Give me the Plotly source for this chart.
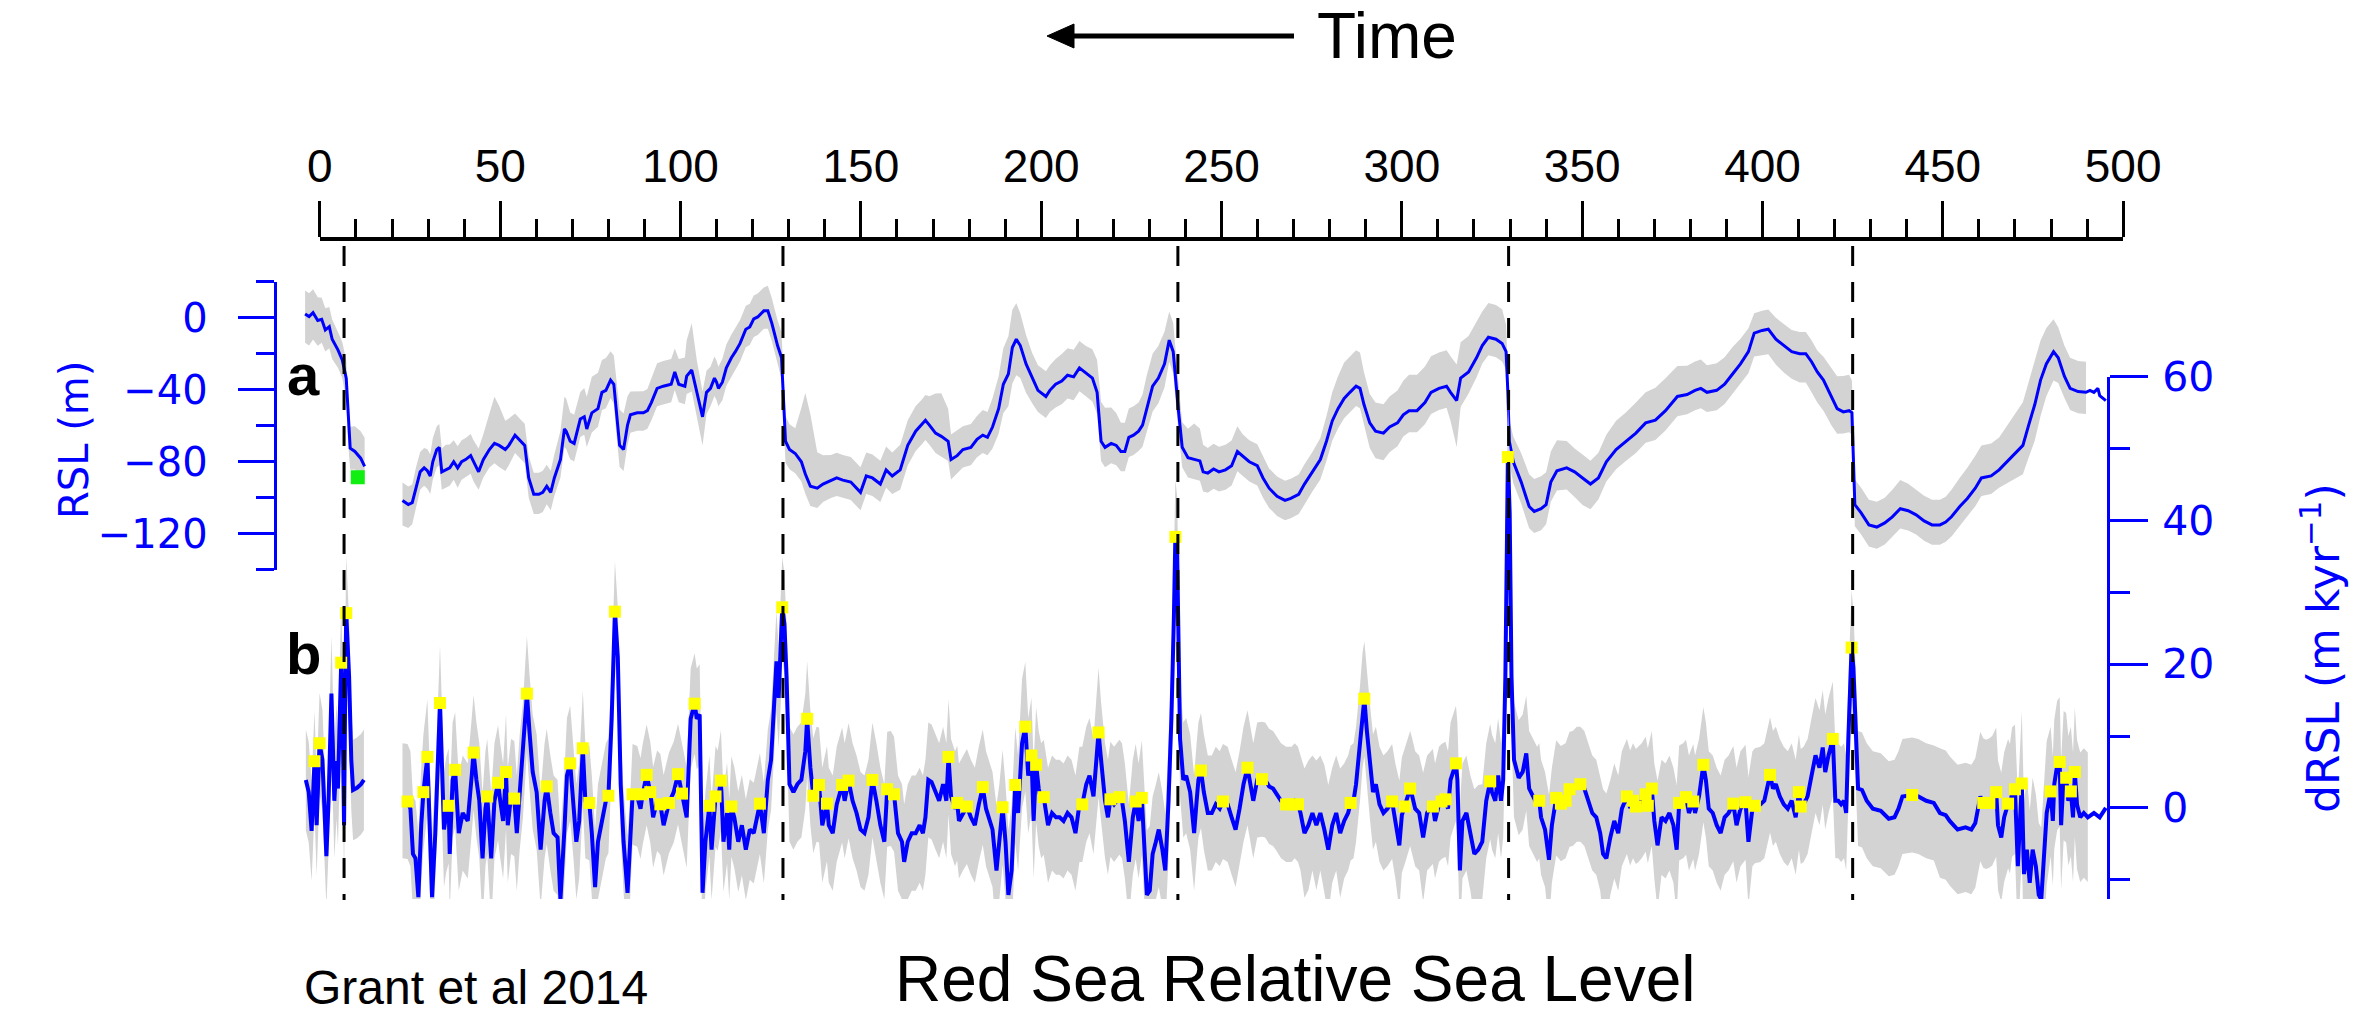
import plotly.graph_objects as go

W, H = 2366, 1014

# ---------------------------------------------------------------------------
# Red Sea relative sea level (RSL, m) and its rate of change (dRSL, m/kyr).
# Ages are in kyr on the plotted time scale.
# ---------------------------------------------------------------------------

# RSL, youngest segment
rsl_age_1 = [-4.1, -3.0, -1.9, -0.6, 0.5, 1.5, 2.6, 3.4, 5.0, 6.2, 7.3, 7.8, 8.4, 9.7, 11.3, 12.4]
rsl_1 = [2.1, 0.6, 2.8, -1.6, -0.9, -6.8, -5.0, -12.0, -17.9, -23.5, -33.7, -55.0, -72.6, -74.4, -78.1, -82.7]
rsl_up_1 = [13, 13, 13, 13, 12, 12, 11, 11, 10, 10, 10, 10, 12, 14, 15, 16]
rsl_dn_1 = [16, 16, 15, 14, 13, 12, 12, 11, 10, 10, 12, 14, 12, 10, 9, 8]

# RSL, main record
rsl_age_2 = [
    22.9, 24.5, 25.6, 26.7, 27.8, 28.9, 29.8, 30.6, 31.3, 32.4,
    33.1, 33.8, 34.9, 36.0, 37.1, 38.2, 39.3, 40.4, 41.8, 42.6,
    44.0, 45.3, 47.0, 48.4, 49.7, 51.4, 52.4, 54.1, 55.7, 56.8,
    57.9, 59.3, 60.7, 61.8, 62.9, 64.0, 65.0, 66.7, 67.8, 68.3,
    69.4, 70.5, 72.2, 73.3, 74.0, 75.4, 77.1, 78.2, 79.3, 80.6,
    81.5, 82.0, 83.1, 84.2, 85.3, 86.1, 88.0, 89.7, 90.8, 91.9,
    93.5, 95.2, 97.4, 98.4, 99.5, 101.2, 101.7, 103.1, 104.5, 106.1,
    107.2, 108.3, 109.4, 110.0, 110.5, 111.6, 112.7, 114.1, 115.2, 116.5,
    118.1, 119.2, 120.3, 121.4, 123.1, 124.2, 125.3, 126.9, 128.0, 128.6,
    129.1, 130.2, 131.8, 133.5, 134.6, 136.0, 137.9, 139.5, 141.7, 143.3,
    145.0, 147.2, 149.9, 151.5, 153.2, 155.4, 157.0, 158.7, 160.9, 163.0,
    165.2, 166.8, 167.9, 169.0, 170.7, 172.3, 174.2, 175.0, 176.7, 178.3,
    180.5, 182.2, 183.8, 185.1, 186.5, 188.2, 189.5, 190.9, 192.0, 193.1,
    194.2, 195.8, 197.5, 199.1, 201.3, 202.4, 204.0, 205.7, 207.3, 209.0,
    210.6, 212.3, 214.2, 215.5, 216.6, 217.7, 219.4, 220.8, 222.1, 223.2,
    224.3, 225.6, 227.0, 228.1, 229.2, 230.9, 232.5, 234.2, 235.5, 236.6,
    238.0, 239.1, 240.7, 242.4, 244.0, 244.9, 246.2, 247.8, 249.3, 251.1,
    252.8, 254.4, 255.8, 257.7, 259.9, 261.5, 263.2, 265.4, 267.6, 269.2,
    271.4, 273.0, 275.2, 277.4, 279.1, 280.7, 282.3, 284.0, 285.6, 287.3,
    288.4, 289.5, 291.1, 292.7, 294.9, 296.6, 298.8, 300.4, 302.0, 304.2,
    306.4, 308.1, 310.3, 312.4, 313.5, 315.2, 316.3, 318.5, 320.7, 322.3,
    324.0, 326.1, 327.8, 328.9, 329.4, 329.8, 330.9, 333.1, 335.3, 336.7,
    338.6, 340.0, 341.3, 343.0, 345.7, 347.9, 350.1, 352.3, 354.5, 356.7,
    359.4, 362.1, 364.9, 367.6, 370.3, 373.1, 376.4, 379.1, 381.3, 382.9,
    384.6, 387.3, 389.5, 391.7, 393.9, 396.1, 397.7, 399.9, 401.6, 403.7,
    405.9, 408.1, 410.3, 412.0, 413.6, 415.2, 416.9, 419.1, 420.7, 422.4,
    424.0, 424.8, 425.2, 425.6, 427.3, 429.5, 431.7, 433.9, 436.0, 438.2,
    440.4, 442.6, 444.8, 447.0, 449.2, 450.8, 452.4, 454.7, 456.8, 459.0,
    460.7, 463.4, 465.6, 467.8, 470.0, 472.2, 473.8, 475.5, 477.1, 478.7,
    480.7, 482.0, 483.7, 485.3, 487.5, 489.7, 490.8, 491.9, 493.0, 493.5,
    495.2,
]
rsl_2 = [
    -101.6, -103.9, -102.8, -93.7, -85.7, -83.5, -85.1, -88.0, -80.1, -73.3,
    -72.1, -85.7, -84.6, -83.5, -80.1, -83.5, -80.1, -78.9, -76.7, -80.1,
    -85.7, -78.9, -73.3, -69.9, -71.0, -73.3, -71.0, -65.3, -68.7, -71.0,
    -89.1, -98.2, -98.2, -97.1, -93.7, -97.1, -89.1, -78.9, -61.9, -63.1,
    -68.7, -69.9, -56.3, -55.1, -61.9, -52.9, -50.6, -41.5, -40.4, -34.7,
    -37.0, -48.3, -71.0, -73.3, -59.7, -54.0, -52.9, -52.9, -51.7, -47.2,
    -39.3, -38.1, -37.0, -30.2, -37.0, -38.1, -32.5, -29.1, -41.5, -55.1,
    -41.5, -39.3, -33.6, -35.9, -39.3, -35.9, -27.9, -22.3, -18.9, -14.3,
    -6.4, -5.2, -0.7, 0.4, 3.8, 3.8, -3.0, -15.5, -22.3, -46.0,
    -68.7, -73.3, -75.5, -80.1, -86.9, -93.7, -94.8, -92.5, -90.3, -89.1,
    -90.3, -91.4, -97.1, -88.0, -89.1, -92.5, -84.6, -88.0, -84.6, -71.0,
    -63.1, -59.7, -57.0, -59.7, -64.2, -66.0, -68.7, -78.9, -76.7, -73.3,
    -72.1, -67.6, -65.3, -66.5, -60.8, -50.6, -37.0, -31.3, -16.6, -12.0,
    -15.5, -25.7, -33.6, -40.4, -43.8, -40.4, -37.0, -35.2, -32.0, -32.9,
    -27.9, -30.6, -33.6, -41.5, -68.7, -72.1, -69.9, -71.0, -74.4, -74.4,
    -66.5, -65.3, -63.1, -59.7, -50.6, -38.1, -33.6, -25.7, -12.5, -18.9,
    -50.6, -72.1, -77.8, -78.9, -79.6, -85.7, -86.4, -84.1, -85.7, -84.6,
    -82.3, -74.4, -76.7, -80.1, -82.3, -89.1, -94.8, -99.3, -101.6, -100.5,
    -98.2, -92.5, -85.7, -78.9, -68.7, -57.4, -50.6, -44.9, -41.5, -38.1,
    -39.3, -48.3, -58.5, -63.1, -64.2, -60.8, -58.5, -54.0, -51.7, -51.7,
    -47.2, -41.5, -39.3, -38.1, -41.5, -46.1, -33.6, -30.2, -22.3, -15.5,
    -10.9, -12.0, -14.3, -18.9, -41.5, -68.7, -80.1, -91.4, -105.0, -107.7,
    -106.2, -103.9, -91.4, -85.1, -83.5, -85.7, -89.1, -92.5, -89.1, -80.1,
    -73.3, -68.7, -64.2, -58.5, -57.0, -51.7, -43.8, -42.7, -40.4, -39.3,
    -41.5, -40.4, -37.0, -31.3, -25.7, -18.9, -8.6, -7.1, -6.4, -12.0,
    -15.5, -18.9, -20.0, -20.0, -24.5, -30.2, -34.7, -43.8, -50.6, -52.4,
    -51.7, -52.9, -75.5, -103.9, -108.4, -115.2, -116.4, -114.1, -110.7, -106.2,
    -107.3, -109.6, -113.0, -115.2, -115.2, -113.6, -110.7, -105.0, -100.5, -94.8,
    -89.1, -88.0, -84.6, -80.1, -75.5, -71.0, -59.7, -48.3, -34.7, -25.7,
    -18.9, -22.3, -32.5, -39.3, -41.1, -41.5, -40.4, -41.5, -39.3, -43.3,
    -46.1,
]
# upper / lower extent of the RSL confidence band (m above / below the curve)
rsl_up_2 = [
    10, 10, 10, 11, 11, 11, 12, 12, 13, 13,
    13, 13, 14, 13, 12, 12, 12, 12, 12, 12,
    13, 14, 20, 26, 22, 16, 15, 12, 12, 12,
    12, 12, 12, 12, 12, 12, 13, 16, 18, 18,
    16, 16, 15, 16, 18, 20, 20, 18, 18, 16,
    16, 18, 20, 20, 16, 13, 12, 12, 12, 13,
    14, 14, 14, 13, 14, 16, 20, 26, 18, 14,
    12, 12, 12, 12, 12, 13, 13, 13, 13, 13,
    13, 13, 13, 13, 13, 14, 14, 14, 14, 14,
    14, 14, 14, 30, 45, 40, 20, 16, 14, 14,
    14, 14, 14, 13, 13, 13, 13, 13, 14, 14,
    14, 14, 14, 16, 22, 24, 18, 14, 14, 13,
    13, 13, 14, 14, 16, 18, 20, 21, 21, 20,
    18, 16, 14, 14, 14, 14, 14, 15, 15, 15,
    15, 15, 16, 18, 22, 22, 20, 18, 16, 16,
    16, 16, 16, 17, 18, 18, 18, 18, 16, 16,
    16, 14, 16, 20, 18, 15, 14, 14, 14, 14,
    14, 14, 12, 12, 12, 12, 11, 11, 11, 11,
    11, 11, 11, 12, 14, 16, 18, 20, 20, 20,
    20, 18, 16, 16, 16, 17, 18, 19, 20, 20,
    20, 20, 20, 20, 20, 20, 20, 20, 20, 19,
    19, 19, 19, 15, 12, 12, 14, 16, 18, 18,
    18, 18, 17, 17, 15, 13, 13, 13, 14, 15,
    16, 16, 17, 17, 18, 18, 17, 16, 16, 16,
    15, 15, 15, 15, 14, 13, 11, 11, 11, 12,
    12, 12, 12, 12, 12, 12, 13, 16, 18, 20,
    20, 18, 14, 14, 14, 14, 14, 14, 15, 16,
    15, 14, 14, 14, 14, 14, 15, 16, 17, 18,
    18, 18, 18, 20, 22, 24, 24, 24, 22, 20,
    18, 17, 17, 17, 17, 17, None, None, None, None,
    None,
]
rsl_dn_2 = [
    14, 13, 12, 11, 10, 10, 10, 10, 10, 10,
    10, 10, 10, 10, 10, 11, 10, 10, 10, 11,
    10, 10, 10, 11, 12, 12, 11, 10, 10, 10,
    11, 11, 11, 11, 10, 10, 10, 10, 10, 10,
    10, 10, 10, 10, 10, 11, 10, 10, 10, 10,
    11, 12, 12, 12, 11, 10, 10, 10, 10, 10,
    10, 10, 10, 10, 10, 10, 10, 12, 14, 16,
    12, 10, 10, 10, 10, 10, 10, 10, 10, 10,
    10, 10, 10, 10, 10, 10, 10, 10, 12, 12,
    12, 11, 11, 11, 11, 11, 11, 10, 10, 10,
    10, 10, 10, 10, 10, 10, 10, 10, 11, 11,
    11, 11, 11, 11, 11, 11, 11, 11, 10, 10,
    10, 10, 10, 10, 12, 14, 16, 18, 20, 20,
    18, 16, 14, 12, 12, 12, 13, 13, 13, 13,
    13, 13, 13, 12, 11, 11, 11, 11, 11, 11,
    11, 11, 11, 12, 13, 14, 14, 13, 12, 12,
    12, 11, 11, 11, 11, 11, 11, 11, 11, 11,
    11, 11, 11, 11, 11, 11, 11, 11, 11, 11,
    11, 11, 11, 11, 11, 11, 11, 11, 11, 11,
    11, 12, 14, 15, 15, 14, 13, 12, 12, 12,
    12, 12, 12, 12, 16, 26, 16, 12, 11, 10,
    10, 10, 10, 10, 12, 12, 12, 12, 12, 12,
    12, 11, 11, 11, 12, 14, 15, 14, 12, 11,
    11, 11, 11, 11, 11, 11, 11, 11, 11, 11,
    11, 11, 11, 11, 11, 12, 13, 14, 14, 14,
    15, 15, 16, 16, 17, 17, 17, 16, 14, 12,
    12, 12, 12, 12, 12, 12, 12, 12, 11, 11,
    11, 11, 11, 11, 11, 11, 11, 11, 10, 10,
    10, 10, 10, 12, 14, 16, 18, 20, 20, 18,
    16, 14, 12, 12, 12, 12, None, None, None, None,
    None,
]

# dRSL (m/kyr), youngest segment
drsl_age_1 = [-3.9, -3.1, -2.3, -1.5, -0.9, -0.1, 0.7, 1.8, 2.4, 3.2, 4.0, 4.6,
              5.0, 5.9, 6.3, 6.7, 7.0, 7.3, 8.1, 8.7, 9.2, 10.3, 11.4, 12.2]
drsl_1 = [3.9, 2.2, -3.2, 6.5, -2.4, 9.0, 6.7, -6.7, 1.0, 15.9, 1.0, 6.5,
          2.7, 20.2, 12.4, -2.4, 15.3, 27.1, 18.2, 6.7, 2.5, 2.8, 3.3, 3.9]
drsl_err_1 = [7, 7, 7, 7, 7, 7, 7, 7, 7, 8, 8, 8,
              8, 8, 8, 8, 8, 8, 8, 7, 7, 7, 7, 7]

# dRSL, main record
drsl_age_2 = [
    22.9, 24.3, 25.1, 25.8, 26.5, 27.3, 28.1, 28.7, 29.8, 30.2,
    31.1, 32.0, 32.7, 33.3, 33.8, 34.4, 35.0, 35.7, 36.0, 36.8,
    37.5, 38.5, 39.6, 41.0, 42.1, 42.6, 43.4, 44.2, 45.1, 45.9,
    46.4, 47.5, 48.4, 49.4, 50.0, 50.8, 51.6, 52.1, 53.0, 53.9,
    54.6, 55.4, 56.3, 57.4, 58.1, 59.0, 60.1, 61.2, 62.3, 62.9,
    63.9, 64.8, 65.9, 66.7, 67.8, 68.5, 69.4, 70.3, 71.1, 71.9,
    72.9, 73.6, 74.7, 75.4, 76.3, 77.1, 78.2, 79.3, 80.0, 80.9,
    81.8, 82.6, 83.4, 84.2, 85.3, 86.1, 86.7, 88.0, 88.9, 89.5,
    90.6, 91.6, 92.4, 93.5, 94.4, 95.3, 96.8, 98.1, 99.3, 100.4,
    101.7, 102.8, 103.9, 104.5, 105.3, 106.1, 106.9, 108.0, 108.6, 109.7,
    110.3, 111.2, 111.9, 112.9, 113.5, 114.1, 114.9, 116.0, 117.0, 118.1,
    119.2, 120.3, 122.0, 123.1, 124.2, 125.1, 125.8, 126.6, 127.2, 127.8,
    128.2, 128.8, 129.4, 130.2, 131.3, 132.4, 133.5, 134.6, 135.1, 136.0,
    136.8, 137.7, 138.4, 139.3, 140.6, 141.1, 142.2, 143.3, 144.8, 145.5,
    146.6, 147.7, 148.8, 149.9, 151.0, 152.1, 153.2, 154.3, 155.4, 156.5,
    157.3, 158.3, 159.2, 160.3, 161.4, 162.0, 163.0, 164.1, 165.2, 166.3,
    167.2, 167.9, 168.7, 169.6, 170.7, 171.7, 172.8, 173.7, 174.3, 175.0,
    176.1, 176.7, 177.2, 178.3, 179.4, 180.5, 181.6, 182.7, 183.8, 184.7,
    185.4, 186.5, 187.6, 188.4, 189.3, 190.1, 190.9, 191.8, 192.8, 193.6,
    194.7, 195.6, 196.4, 197.3, 197.9, 198.6, 199.3, 200.0, 200.7, 201.9,
    203.0, 204.1, 205.1, 206.2, 207.3, 208.4, 209.5, 210.6, 211.4, 212.5,
    213.4, 214.5, 215.9, 216.6, 217.7, 218.5, 219.2, 220.2, 221.7, 222.4,
    223.2, 224.3, 225.4, 226.2, 227.0, 227.9, 228.7, 229.3, 230.1, 230.9,
    231.8, 232.6, 233.6, 234.4, 235.3, 236.1, 236.8, 237.2, 237.7, 238.1,
    238.5, 239.4, 240.2, 241.3, 242.4, 243.1, 243.6, 244.3, 245.1, 246.2,
    247.3, 248.4, 249.5, 250.4, 251.7, 252.8, 253.9, 255.0, 256.1, 257.2,
    257.9, 258.8, 259.9, 261.2, 262.1, 263.2, 264.3, 265.4, 266.5, 267.9,
    269.4, 270.3, 271.2, 271.9, 273.0, 274.1, 275.2, 276.3, 277.4, 278.5,
    279.6, 280.7, 281.8, 282.9, 284.0, 285.1, 285.8, 286.6, 287.3, 288.4,
    289.1, 289.6, 290.3, 291.1, 292.0, 292.8, 293.8, 294.9, 296.0, 297.3,
    298.2, 299.3, 300.0, 300.8, 302.3, 302.9, 303.7, 304.8, 305.9, 307.0,
    308.0, 308.6, 309.2, 310.3, 311.0, 312.1, 312.8, 313.5, 315.0, 315.4,
    316.1, 316.8, 317.9, 319.0, 320.1, 321.2, 322.3, 323.4, 324.5, 325.0,
    325.9, 326.7, 327.5, 328.1, 328.7, 329.1, 329.4, 329.9, 330.4, 331.1,
    332.4, 333.5, 334.5, 335.3, 336.4, 337.5, 338.1, 338.6, 339.7, 340.8,
    341.6, 342.8, 344.1, 345.4, 346.5, 347.4, 348.5, 349.5, 350.6, 351.7,
    352.8, 353.9, 355.0, 355.8, 356.7, 357.8, 358.9, 360.0, 361.0, 362.4,
    363.3, 364.1, 364.9, 365.6, 366.5, 367.6, 368.2, 369.3, 370.0, 370.9,
    372.0, 373.1, 374.2, 375.3, 376.2, 376.9, 378.0, 378.8, 379.6, 380.8,
    381.3, 382.4, 383.6, 384.3, 385.1, 386.2, 387.3, 388.4, 389.5, 390.6,
    391.9, 392.8, 393.9, 395.3, 396.1, 397.2, 397.9, 399.4, 400.5, 402.1,
    402.9, 403.7, 404.8, 405.9, 407.0, 408.1, 409.2, 410.1, 410.6, 411.4,
    412.5, 413.6, 414.7, 415.8, 416.7, 417.4, 418.3, 419.5, 420.2, 421.0,
    421.8, 422.6, 423.2, 423.8, 424.7, 425.2, 425.9, 426.5, 427.6, 428.9,
    430.6, 432.8, 435.0, 436.6, 437.7, 438.8, 441.5, 443.2, 445.4, 447.5,
    449.2, 450.8, 451.9, 454.1, 456.3, 457.9, 459.0, 459.8, 460.4, 461.2,
    462.0, 462.9, 463.7, 464.8, 465.3, 466.2, 467.0, 468.1, 468.6, 469.2,
    470.0, 470.8, 471.4, 471.9, 472.5, 473.3, 474.1, 474.9, 475.8, 476.6,
    477.3, 478.0, 478.8, 479.9, 480.5, 480.9, 481.7, 482.4, 482.8, 483.5,
    484.2, 484.8, 485.5, 486.1, 486.6, 487.2, 488.1, 489.1, 490.2, 491.9,
    493.5, 495.2,
]
drsl_2 = [
    1.0, 0.9, -0.1, -6.4, -7.0, -12.4, -2.4, 2.2, 7.1, 1.0,
    -12.4, -3.5, 6.7, 14.6, 6.7, -3.0, -1.0, 0.3, -6.4, 3.9,
    5.3, -3.5, -0.7, -1.8, 4.5, 7.7, 3.9, 1.0, -7.0, -0.1,
    1.6, -7.0, 1.0, 3.5, 1.0, -1.8, 5.0, -2.4, 1.6, 1.3,
    -3.5, 2.2, 6.7, 15.9, 10.7, 5.0, 2.2, -5.8, 1.0, 3.0,
    -0.7, -3.5, -4.1, -12.7, -3.0, 4.5, 6.2, 1.0, -4.7, -1.8,
    8.3, 1.0, 0.7, -3.5, -11.0, -4.7, -1.8, 1.0, 1.7, 12.4,
    27.3, 21.0, 3.3, -4.7, -11.8, -4.7, 1.9, 1.6, -0.1, 1.9,
    4.6, 2.2, -1.3, 1.0, 0.5, -2.4, 0.7, 2.2, 4.7, 2.0,
    -1.3, 12.4, 14.5, 12.4, 13.0, -11.8, -4.7, 0.3, -5.8, 1.6,
    1.0, 3.8, -4.7, -0.7, -5.8, 0.2, -1.3, -4.7, -2.4, -5.8,
    -3.0, -3.5, 0.6, -3.5, 3.9, 6.7, 12.4, 20.4, 15.3, 21.6,
    27.9, 25.6, 18.2, 3.3, 2.2, 3.3, 3.9, 7.9, 12.4, 5.6,
    1.7, 3.3, 3.2, -2.4, 0.6, -2.4, -3.5, 0.5, 3.2, 1.0,
    3.8, 1.0, -0.7, -3.0, -3.5, -1.3, 3.9, 1.0, -2.4, -4.7,
    2.6, 2.7, 1.9, -3.5, -4.7, -7.5, -4.7, -3.5, -3.5, -2.4,
    -3.5, -1.3, 3.9, 3.6, 2.2, 1.0, 3.3, 1.0, 7.1, 1.6,
    -0.1, 0.7, -1.8, -0.7, 0.2, -1.3, -2.4, 0.5, 2.9, -0.1,
    -1.3, -3.0, -8.7, -4.7, 0.1, -4.7, -12.1, -8.7, 3.2, -0.7,
    9.0, 11.3, 4.5, 7.3, -1.8, 6.0, 2.7, 1.0, 1.5, -2.4,
    -0.7, -1.3, -1.3, -1.8, -0.7, -1.3, -3.5, 0.5, 0.5, 3.3,
    4.5, 1.6, 10.5, 6.7, 1.0, -1.3, 1.2, 0.5, 1.5, 1.0,
    -1.8, -7.5, -1.3, 0.9, -1.8, 1.4, -5.8, -12.1, -11.5, -6.4,
    -4.7, -3.0, -5.8, -8.7, 1.0, 12.4, 26.7, 37.7, 35.3, 23.9,
    9.6, 3.9, 4.5, 2.2, -3.5, 1.0, 3.9, 5.2, 2.2, -0.7,
    -0.7, 0.5, -0.1, 0.9, 0.5, -1.3, -3.0, -0.1, 3.3, 5.6,
    3.3, 1.0, 3.9, 4.0, 3.9, 3.0, 2.7, 1.9, 1.0, 0.5,
    0.5, 1.0, 0.5, -0.7, -3.5, -2.4, -0.7, -2.4, -0.7, -3.0,
    -5.8, -2.4, -0.7, -3.5, -1.8, -0.7, 0.7, 1.0, 3.3, 9.0,
    13.6, 15.2, 10.7, 6.7, 2.2, 3.3, 0.5, -0.7, -0.1, 0.9,
    -1.8, -5.2, -1.0, 0.2, 2.7, 1.6, -0.1, -0.7, -4.1, -0.7,
    -0.1, 0.2, -1.8, 0.5, 0.9, 1.2, -0.1, 3.9, 6.2, 3.9,
    -8.7, -1.8, -0.7, -3.5, -6.4, -5.8, -4.7, 1.0, 3.7, 2.2,
    1.0, 4.5, 1.0, 3.9, 18.2, 35.3, 48.8, 41.0, 18.2, 6.7,
    4.2, 5.0, 7.6, 2.7, 1.6, 0.5, 1.0, -1.3, -3.0, -7.2,
    -2.4, 1.4, 0.6, 1.0, 2.6, 2.7, 3.3, 3.3, 2.7, 1.0,
    -0.7, -1.3, -3.5, -6.4, -7.0, -4.1, -1.8, -3.5, -0.1, 1.6,
    0.0, 1.0, 0.2, 0.5, 1.0, 1.9, 0.3, 2.7, -1.8, -5.2,
    -1.3, -1.8, -0.7, -2.4, -5.8, 0.7, 1.0, 1.5, -0.7, 0.9,
    -0.7, 1.6, 6.0, 3.9, -0.1, -0.7, -2.4, -3.5, -1.3, -0.7,
    0.6, -2.4, -0.1, 0.8, -4.7, -0.1, 0.3, 0.5, 1.0, 4.6,
    2.7, 3.3, 1.6, 0.5, -0.1, 1.0, -1.3, 2.2, 0.2, 0.5,
    1.6, 4.5, 7.3, 5.6, 8.4, 5.0, 7.3, 9.6, 1.0, 1.0,
    0.5, 1.0, -0.7, 9.6, 22.3, 19.5, 9.6, 2.7, 2.5, 1.0,
    -0.1, -0.4, -1.5, -1.3, -0.1, 1.6, 1.8, 1.6, 1.0, 0.7,
    -0.7, -1.0, -1.8, -3.0, -2.7, -3.0, -2.1, -0.1, 1.6, 0.7,
    0.5, 0.7, 1.0, 2.2, -2.4, -4.1, -1.3, 0.6, -0.1, 2.2,
    2.6, -8.1, -2.4, 3.4, -9.2, -5.8, -10.4, -5.8, -8.1, -12.1,
    -12.7, -6.4, -0.7, 2.3, -1.8, 3.3, 5.9, 6.4, -2.4, 4.5,
    4.2, 1.0, 2.3, -1.3, 5.0, 0.5, -1.3, -0.7, -1.3, -0.7,
    -1.3, 0.0,
]
# half-width of the dRSL confidence band (m/kyr)
drsl_err_2 = [
    8, 8, 8, 8, 8, 9, 8, 8, 8, 8,
    9, 8, 8, 8, 8, 8, 8, 8, 8, 8,
    8, 8, 8, 8, 8, 8, 8, 8, 9, 8,
    8, 9, 8, 8, 8, 8, 8, 8, 8, 8,
    8, 8, 8, 8, 8, 8, 8, 8, 8, 8,
    8, 8, 8, 9, 8, 8, 8, 8, 8, 8,
    8, 8, 8, 8, 8, 8, 8, 8, 8, 7,
    7, 7, 7, 7, 8, 7, 7, 7, 7, 7,
    7, 7, 7, 7, 7, 7, 7, 7, 7, 7,
    7, 7, 7, 7, 7, 8, 7, 7, 7, 7,
    7, 7, 7, 7, 7, 7, 7, 7, 7, 7,
    7, 7, 7, 7, 7, 7, 7, 7, 7, 7,
    7, 7, 7, 8, 8, 8, 8, 8, 8, 8,
    8, 8, 8, 8, 8, 8, 8, 8, 8, 8,
    8, 8, 8, 8, 8, 8, 8, 8, 8, 8,
    8, 8, 8, 8, 8, 8, 8, 8, 8, 8,
    8, 8, 8, 8, 8, 8, 8, 8, 8, 8,
    8, 8, 8, 8, 8, 8, 8, 8, 8, 8,
    8, 8, 9, 8, 8, 8, 9, 9, 8, 8,
    9, 9, 8, 8, 8, 8, 8, 8, 8, 8,
    8, 8, 8, 8, 8, 8, 8, 8, 8, 8,
    8, 8, 9, 8, 8, 8, 8, 8, 8, 8,
    8, 8, 8, 8, 8, 8, 8, 9, 9, 8,
    8, 8, 8, 8, 8, 8, 8, 8, 8, 8,
    8, 8, 8, 8, 8, 8, 8, 8, 8, 8,
    8, 8, 8, 8, 8, 8, 8, 8, 8, 8,
    8, 8, 8, 8, 8, 8, 8, 8, 8, 8,
    8, 8, 8, 8, 9, 9, 8, 9, 8, 9,
    9, 8, 8, 9, 8, 8, 8, 8, 8, 8,
    8, 8, 8, 8, 8, 8, 8, 8, 8, 8,
    8, 9, 8, 8, 8, 8, 8, 8, 9, 8,
    8, 8, 8, 8, 8, 8, 8, 8, 8, 8,
    9, 8, 8, 8, 9, 9, 8, 8, 8, 8,
    8, 8, 8, 8, 8, 8, 8, 8, 8, 8,
    8, 8, 8, 8, 8, 8, 8, 8, 8, 9,
    8, 8, 8, 8, 8, 8, 8, 8, 8, 8,
    8, 8, 8, 9, 9, 8, 8, 8, 8, 8,
    8, 8, 8, 8, 8, 8, 8, 8, 8, 9,
    8, 8, 8, 8, 9, 8, 8, 8, 8, 8,
    8, 8, 8, 8, 8, 8, 8, 8, 8, 8,
    8, 8, 8, 8, 9, 8, 8, 8, 8, 8,
    8, 8, 8, 8, 8, 8, 8, 8, 8, 8,
    8, 8, 8, 8, 8, 8, 8, 8, 8, 8,
    8, 8, 8, 8, 8, 8, 8, 8, 8, 8,
    8, 8, 8, 8, 8, 8, 8, 8, 8, 8,
    9, 9, 9, 9, 9, 9, 9, 9, 9, 9,
    9, 9, 9, 9, 9, 9, 9, 9, 9, 9,
    9, 10, 10, 10, 10, 10, 10, 10, 10, 10,
    10, 10, 10, 9, 9, 9, 9, 9, 9, 9,
    9, 9, 9, 9, 9, 9, 9, 9, 9, None,
    None, None,
]

# local maxima of dRSL picked out in yellow
peak_age = [
    -1.5, -0.1, 5.9, 7.3,
    24.3, 28.7, 29.8, 33.3, 35.7, 37.5, 42.6, 46.4, 49.4, 51.6, 53.9, 57.4,
    62.9, 69.4, 72.9, 74.7, 80.0, 81.8, 86.7, 89.5, 90.6, 91.6, 94.4, 96.8,
    99.3, 100.4, 103.9, 108.0, 109.7, 111.2, 114.1, 122.0, 128.2, 135.1, 136.8,
    138.4, 140.6, 144.8, 146.6, 153.2, 157.3, 159.2,
    174.3, 176.7, 179.4, 183.8, 189.3, 192.8, 195.6, 197.3, 198.6, 200.7,
    211.4, 215.9, 219.2, 221.7, 226.2, 227.9, 237.2, 244.3, 250.4, 257.2,
    261.2, 267.9, 269.4, 271.2, 285.8, 289.6, 297.3, 300.8, 302.3, 308.6,
    311.0, 312.1, 315.0, 324.5, 329.4,
    338.1, 342.8, 344.1, 345.4, 346.5, 349.5, 362.4, 364.1, 364.9, 367.6,
    368.2, 369.3, 376.9, 378.8, 380.8, 383.6, 391.9, 395.3, 397.9, 402.1,
    410.1, 410.6, 419.5, 424.7, 441.5, 461.2, 462.9, 464.8, 468.1, 470.0,
    471.9, 479.9, 482.4, 484.2, 485.5, 486.6,
]
peak_rate = [
    6.5, 9.0, 20.2, 27.1,
    0.9, 2.2, 7.1, 14.6, 0.3, 5.3, 7.7, 1.6, 3.5, 5.0, 1.3, 15.9,
    3.0, 6.2, 8.3, 0.7, 1.7, 27.3, 1.9, 1.9, 4.6, 2.2, 0.5, 0.7,
    4.7, 2.0, 14.5, 0.3, 1.6, 3.8, 0.2, 0.6, 27.9, 12.4, 1.7,
    3.2, 0.6, 3.2, 3.8, 3.9, 2.6, 1.9,
    7.1, 0.7, 0.2, 2.9, 0.1, 3.2, 11.3, 7.3, 6.0, 1.5,
    0.5, 10.5, 1.2, 1.5, 0.9, 1.4, 37.7, 5.2, 0.9, 5.6,
    4.0, 0.5, 0.5, 0.5, 0.7, 15.2, 0.9, 0.2, 2.7, 0.2,
    0.9, 1.2, 6.2, 3.7, 48.8,
    1.0, 1.4, 0.6, 1.0, 2.6, 3.3, 1.6, 1.0, 0.2, 1.9,
    0.3, 2.7, 0.7, 1.5, 0.9, 6.0, 0.6, 0.8, 0.3, 4.6,
    2.2, 0.2, 9.6, 22.3, 1.8, 0.7, 0.7, 2.2, 0.6, 2.6,
    3.4, 2.3, 6.4, 4.2, 2.3, 5.0,
]

# core-top sea level
coretop_age = [10.5]
coretop_rsl = [-88.7]

# glacial terminations (dashed markers)
termination_age = [6.7, 128.4, 237.9, 329.6, 425.0]

for a, b in [(rsl_age_1, rsl_1), (rsl_age_1, rsl_up_1), (rsl_age_1, rsl_dn_1),
             (rsl_age_2, rsl_2), (rsl_age_2, rsl_up_2), (rsl_age_2, rsl_dn_2),
             (drsl_age_1, drsl_1), (drsl_age_1, drsl_err_1),
             (drsl_age_2, drsl_2), (drsl_age_2, drsl_err_2), (peak_age, peak_rate)]:
    assert len(a) == len(b), (len(a), len(b))

# ---------------------------------------------------------------------------
# page geometry (pixels) -> paper fractions
# ---------------------------------------------------------------------------
def fx(px):
    return px / W


def fy(py):
    return 1 - py / H


X0 = 319.9          # pixel column of age 0
KPX = 3.6065        # pixels per kyr
DATA_L, DATA_R = 280, 2132

BLUE = "#0000FF"
GREY = "#D3D3D3"
SANS = "Liberation Sans, Arial, Helvetica, sans-serif"
WIDE = "DejaVu Sans, Verdana, sans-serif"


def band(ages, vals, up, dn):
    xs, hi, lo = [], [], []
    for a, v, u, d in zip(ages, vals, up, dn):
        if u is None or d is None:
            continue
        xs.append(a)
        hi.append(v + u)
        lo.append(v - d)
    return xs + xs[::-1], hi + lo[::-1]


fig = go.Figure()

# confidence envelopes
for ages, vals, up, dn in [(rsl_age_1, rsl_1, rsl_up_1, rsl_dn_1),
                           (rsl_age_2, rsl_2, rsl_up_2, rsl_dn_2)]:
    bx, by = band(ages, vals, up, dn)
    fig.add_trace(go.Scatter(x=bx, y=by, fill="toself", fillcolor=GREY,
                             line=dict(width=0), mode="lines",
                             xaxis="x", yaxis="y", hoverinfo="skip", showlegend=False))
for ages, vals, err in [(drsl_age_1, drsl_1, drsl_err_1),
                        (drsl_age_2, drsl_2, drsl_err_2)]:
    bx, by = band(ages, vals, err, err)
    fig.add_trace(go.Scatter(x=bx, y=by, fill="toself", fillcolor=GREY,
                             line=dict(width=0), mode="lines",
                             xaxis="x", yaxis="y2", hoverinfo="skip", showlegend=False))

# RSL curve
for ages, vals in [(rsl_age_1, rsl_1), (rsl_age_2, rsl_2)]:
    fig.add_trace(go.Scatter(x=ages, y=vals, mode="lines",
                             line=dict(color=BLUE, width=3),
                             xaxis="x", yaxis="y", showlegend=False))
fig.add_trace(go.Scatter(x=coretop_age, y=coretop_rsl, mode="markers",
                         marker=dict(symbol="square", size=14, color="#11EE11",
                                     line=dict(width=0)),
                         xaxis="x", yaxis="y", showlegend=False))

# dRSL curve
for ages, vals in [(drsl_age_1, drsl_1), (drsl_age_2, drsl_2)]:
    fig.add_trace(go.Scatter(x=ages, y=vals, mode="lines",
                             line=dict(color=BLUE, width=4),
                             xaxis="x", yaxis="y2", showlegend=False))
fig.add_trace(go.Scatter(x=peak_age, y=peak_rate, mode="markers",
                         marker=dict(symbol="square", size=12, color="#FFFF00",
                                     line=dict(width=0)),
                         xaxis="x", yaxis="y2", showlegend=False, cliponaxis=False))

# carrier for the time axis
fig.add_trace(go.Scatter(x=[0, 500], y=[None, None], mode="lines",
                         xaxis="x2", yaxis="y", showlegend=False, hoverinfo="skip"))

# terminations
for t in termination_age:
    fig.add_shape(type="line", xref="x", yref="paper", x0=t, x1=t,
                  y0=fy(246), y1=fy(900), layer="above",
                  line=dict(color="black", width=3, dash="20px,16px"))

# "Time" arrow
fig.add_shape(type="line", xref="paper", yref="paper",
              x0=fx(1068), x1=fx(1294), y0=fy(36), y1=fy(36),
              line=dict(color="black", width=5))
fig.add_shape(type="path", xref="paper", yref="paper",
              path=f"M {fx(1047)} {fy(36)} L {fx(1074)} {fy(24)} L {fx(1074)} {fy(48)} Z",
              fillcolor="black", line=dict(color="black", width=1))

ann = [
    dict(text="Time", x=fx(1387), y=fy(36), font=dict(family=SANS, size=64, color="black")),
    dict(text="Red Sea Relative Sea Level", x=fx(1295), y=fy(979),
         font=dict(family=SANS, size=64, color="black")),
    dict(text="Grant et al 2014", x=fx(476), y=fy(987),
         font=dict(family=SANS, size=48, color="black")),
    dict(text="<b>a</b>", x=fx(303), y=fy(374), font=dict(family=SANS, size=58, color="black")),
    dict(text="<b>b</b>", x=fx(303), y=fy(653), font=dict(family=SANS, size=58, color="black")),
    dict(text="RSL (m)", x=fx(74), y=fy(440), textangle=-90,
         font=dict(family=WIDE, size=40, color=BLUE)),
    dict(text="dRSL (m kyr<sup>\u22121</sup>)", x=fx(2320), y=fy(648), textangle=-90,
         font=dict(family=WIDE, size=44, color=BLUE)),
]
for a in ann:
    a.update(xref="paper", yref="paper", xanchor="center", yanchor="middle",
             showarrow=False)

fig.update_layout(
    width=W, height=H, autosize=False,
    margin=dict(l=0, r=0, t=0, b=0, pad=0, autoexpand=False),
    paper_bgcolor="white", plot_bgcolor="rgba(0,0,0,0)",
    showlegend=False,
    annotations=ann,
    xaxis=dict(domain=[fx(DATA_L), fx(DATA_R)],
               range=[(DATA_L - X0) / KPX, (DATA_R - X0) / KPX],
               visible=False, anchor="y2"),
    xaxis2=dict(domain=[fx(X0), fx(X0 + 500 * KPX)], range=[0, 500],
                anchor="free", position=fy(238.5), side="top",
                showline=True, linecolor="black", linewidth=4,
                ticks="outside", ticklen=36, tickwidth=2.5, tickcolor="black",
                tick0=0, dtick=50,
                minor=dict(ticks="outside", tick0=0, dtick=10, ticklen=18,
                           tickwidth=2.5, tickcolor="black", showgrid=False),
                tickfont=dict(family=SANS, size=46, color="black"),
                showgrid=False, zeroline=False),
    yaxis=dict(domain=[fy(569.5), fy(281.7)], range=[-140, 20],
               anchor="free", position=fx(274.6), side="left",
               showline=True, linecolor=BLUE, linewidth=3,
               ticks="outside", ticklen=36, tickwidth=3, tickcolor=BLUE,
               tick0=0, dtick=40, ticklabelstandoff=22,
               minor=dict(ticks="outside", tick0=0, dtick=20, ticklen=18,
                          tickwidth=3, tickcolor=BLUE, showgrid=False),
               tickfont=dict(family=WIDE, size=40, color=BLUE),
               showgrid=False, zeroline=False),
    yaxis2=dict(domain=[fy(899), fy(376.5)], range=[-12.66, 60],
                anchor="free", position=fx(2108), side="right",
                showline=True, linecolor=BLUE, linewidth=3,
                ticks="outside", ticklen=38, tickwidth=3, tickcolor=BLUE,
                tick0=0, dtick=20, ticklabelstandoff=6,
                minor=dict(ticks="outside", tick0=0, dtick=10, ticklen=20,
                           tickwidth=3, tickcolor=BLUE, showgrid=False),
                tickfont=dict(family=WIDE, size=41, color=BLUE),
                showgrid=False, zeroline=False),
)

# the figure fills the page exactly: no body margin, no scrollbars
page_css = ("document.documentElement.style.margin='0';"
            "document.body.style.margin='0';"
            "document.documentElement.style.overflow='hidden';"
            "document.body.style.overflow='hidden';")

fig.write_html("out.html", config={"displayModeBar": False}, post_script=page_css)
